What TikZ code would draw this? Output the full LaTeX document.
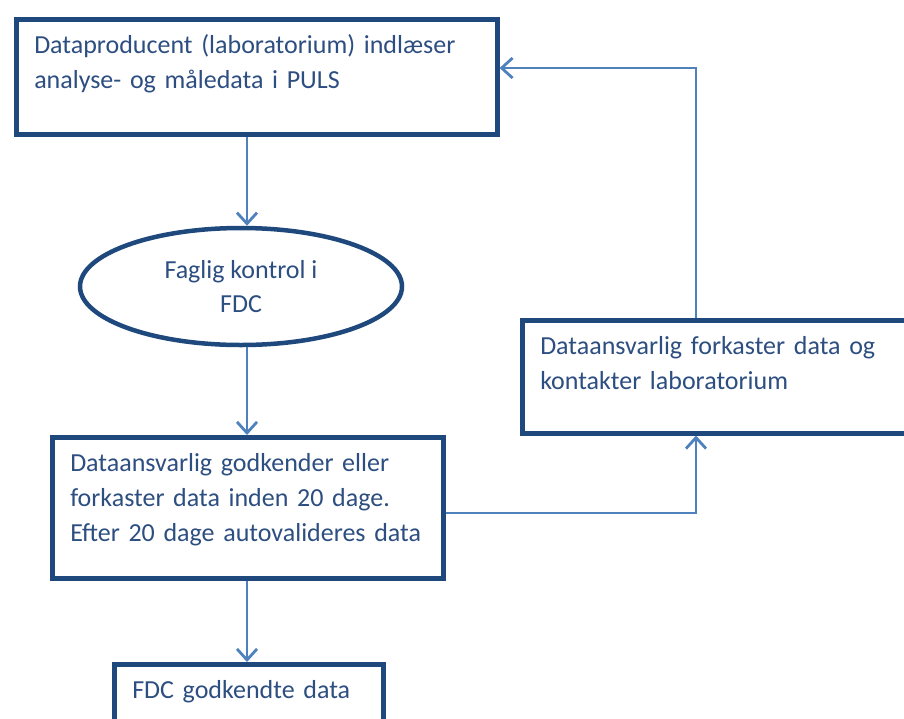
\documentclass[tikz,border=0pt]{standalone}
\usepackage{fontspec}
\setmainfont{Carlito}
\usepackage{xcolor}
\usepackage{tikz}
\usetikzlibrary{arrows.meta,positioning,shapes.geometric}
\definecolor{fdcNavy}{HTML}{1F497D}
\definecolor{fdcBlue}{HTML}{4F81BD}
\definecolor{fdcInk}{HTML}{2D4E80}
\tikzset{
  fdcbox/.style={rectangle,draw=fdcNavy,line width=4.5pt,fill=white,anchor=north west,
    inner xsep=18pt,inner ysep=15pt,text height=19pt,align=left,text=fdcInk,
    font=\fontsize{26}{35}\selectfont},
  fdcoval/.style={ellipse,draw=fdcNavy,line width=4.5pt,fill=white,inner sep=0pt,
    minimum width=322pt,minimum height=117pt,align=center,text=fdcInk,
    font=\fontsize{26}{34}\selectfont},
  arrow/.style={draw=fdcBlue,line width=2.8pt,-{Straight Barb[length=11pt,width=20pt]}}
}
\begin{document}
\begin{tikzpicture}[x=1pt,y=-1pt]
  \useasboundingbox (0,0) rectangle (904,718);
  \clip (0,0) rectangle (904,718);
  \node[fdcbox, text width=445pt, text depth=66pt] (puls) at (14,17)
    {Dataproducent (laboratorium) indlæser\\analyse- og måledata i PULS};
  \node[fdcoval] (kontrol) at (241,286.5) {Faglig kontrol i\\FDC};
  \node[fdcbox, text width=355pt, text depth=92pt] (godkend) at (50,435)
    {Dataansvarlig godkender eller\\forkaster data inden 20 dage.\\Efter 20 dage autovalideres data};
  \node[fdcbox, text width=420pt, text depth=64pt] (forkast) at (520,318)
    {Dataansvarlig forkaster data og\\kontakter laboratorium};
  \node[fdcbox, text width=233pt, text depth=40pt] (fdcdata) at (112,662)
    {FDC godkendte data};
  \coordinate (spine) at (247,0);
  \coordinate (retur) at (696,513);
  \coordinate (tilbage) at (696,68);
  \draw[arrow] (puls.south -| spine) -- (kontrol.north -| spine);
  \draw[arrow] (kontrol.south -| spine) -- (godkend.north -| spine);
  \draw[arrow] (godkend.south -| spine) -- (fdcdata.north -| spine);
  \draw[arrow] (godkend.east |- retur) -- (retur) -- (forkast.south -| retur);
  \draw[arrow] (forkast.north -| tilbage) -- (tilbage) -- (puls.east |- tilbage);
\end{tikzpicture}
\end{document}
